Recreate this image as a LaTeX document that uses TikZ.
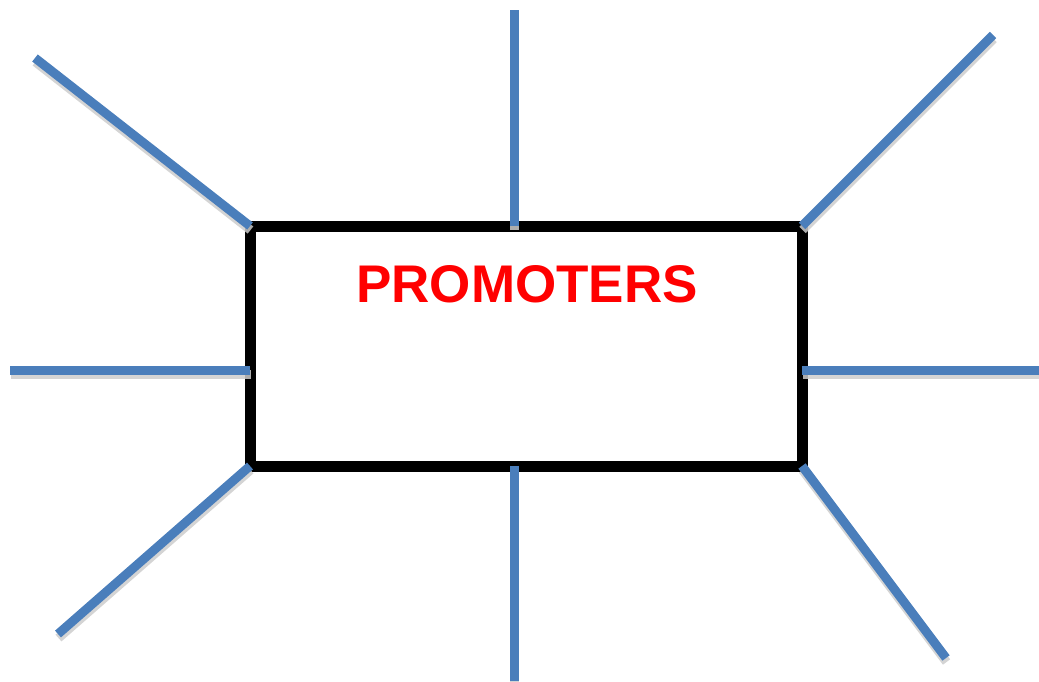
\documentclass[tikz,border=0pt]{standalone}
\usepackage{fontspec}
\setmainfont{Liberation Sans}
\definecolor{spokeblue}{HTML}{4A7EBB}
\definecolor{spokeshadow}{HTML}{CCCCCC}
\begin{document}
\begin{tikzpicture}[x=1pt,y=-1pt,
  boxstyle/.style={draw=black,line width=11pt,minimum width=552pt,minimum height=240pt,inner sep=0pt},
  spoke/.style={draw=spokeblue,line width=9pt},
  spokeshade/.style={draw=spokeshadow,line width=9pt},
  titlestyle/.style={text=red,font=\fontsize{53}{60}\selectfont\bfseries,inner sep=0pt}]
\useasboundingbox (0,0) rectangle (1039,681);
\node[boxstyle] (box) at (526,346) {};
\node[titlestyle] (title) at (527,284) {PROMOTERS};
% coordinates of spoke ends
\coordinate (tl) at (250,226);
\coordinate (tc) at (514,226);
\coordinate (tr) at (802,226);
\coordinate (ml) at (250,370);
\coordinate (mr) at (802,370);
\coordinate (bl) at (250,466);
\coordinate (bc) at (514,466);
\coordinate (br) at (802,466);
\coordinate (otl) at (35,58);
\coordinate (otc) at (514,10);
\coordinate (otr) at (993,35);
\coordinate (oml) at (10,370);
\coordinate (omr) at (1039,370);
\coordinate (obl) at (58,634);
\coordinate (obc) at (514,681);
\coordinate (obr) at (946,658);
% shadows
\foreach \a/\b in {tl/otl,tc/otc,tr/otr,ml/oml,mr/omr,bl/obl,bc/obc,br/obr}
  \draw[spokeshade,opacity=0.85] ([xshift=0.5pt,yshift=-4pt]\a) -- ([xshift=0.5pt,yshift=-4pt]\b);
% spokes
\foreach \a/\b in {tl/otl,tc/otc,tr/otr,ml/oml,mr/omr,bl/obl,bc/obc,br/obr}
  \draw[spoke] (\a) -- (\b);
\end{tikzpicture}
\end{document}
